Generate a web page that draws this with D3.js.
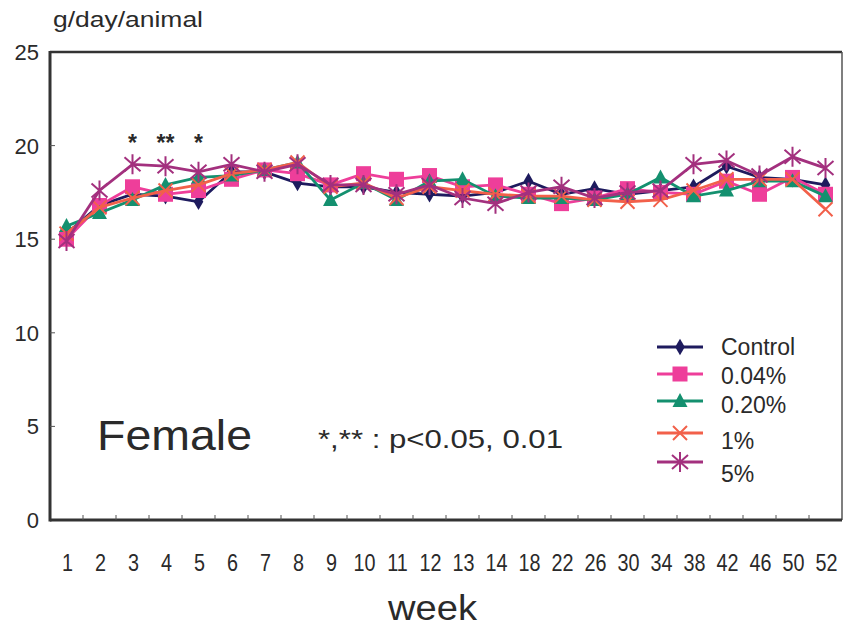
<!DOCTYPE html>
<html><head><meta charset="utf-8">
<script src="https://cdn.jsdelivr.net/npm/d3@7"></script>
<style>body{margin:0;background:#fff}svg{display:block}text{font-family:"Liberation Sans",Arial,sans-serif;fill:#2a2a2a}</style>
</head><body><svg id="c" width="844" height="629"></svg>
<script>
const weeks = [1,2,3,4,5,6,7,8,9,10,11,12,13,14,18,22,26,30,34,38,42,46,50,52];
const yTicks = [0,5,10,15,20,25];
const seriesNames = ["Control","0.04%","0.20%","1%","5%"];
const control = [15.3,16.8,17.4,17.3,17.0,18.6,18.6,18.0,17.8,17.8,17.5,17.4,17.3,17.5,18.1,17.4,17.7,17.4,17.6,17.8,18.9,18.3,18.2,17.9];
const p004    = [15.0,16.8,17.8,17.4,17.6,18.2,18.7,18.5,17.9,18.5,18.2,18.4,17.8,17.9,17.4,16.9,17.2,17.7,17.5,17.4,18.1,17.4,18.3,17.4];
const p020    = [15.7,16.4,17.1,17.9,18.3,18.4,18.7,19.1,17.1,18.0,17.1,18.1,18.2,17.3,17.2,17.2,17.1,17.4,18.3,17.3,17.6,18.1,18.1,17.3];
const p1      = [15.3,16.7,17.2,17.6,17.9,18.5,18.7,19.1,17.8,18.0,17.2,17.8,17.6,17.4,17.3,17.3,17.1,17.0,17.1,17.6,18.2,18.2,18.2,16.6];
const p5      = [14.9,17.6,19.0,18.9,18.6,19.0,18.6,19.0,17.9,17.9,17.4,17.9,17.2,16.9,17.5,17.8,17.2,17.5,17.6,19.0,19.2,18.4,19.4,18.8];
const sigWeeks = [3,4,5];
const sigMarks = ["*","**","*"];

const colors = ["#1e1b5e","#ee3e9a","#14906f","#f2604a","#a3307e"];
const shapes = ["diamond","square","triangle","x","star"];
const allSeries = [control,p004,p020,p1,p5];

const svg = d3.select("#c");
const L=50,R=842,T=52,B=520;
const xb = d3.scaleBand().domain(weeks).range([L,R]);
const xc = w => xb(w)+xb.bandwidth()/2;
const y = d3.scaleLinear().domain([0,25]).range([B,T]);

// frame
svg.append("line").attr("x1",L).attr("x2",R).attr("y1",T).attr("y2",T).attr("stroke","#333").attr("stroke-width",2.5);
svg.append("line").attr("x1",R).attr("x2",R).attr("y1",T).attr("y2",B).attr("stroke","#555").attr("stroke-width",1.5);
svg.append("line").attr("x1",L).attr("x2",L).attr("y1",T-1).attr("y2",B+1.5).attr("stroke","#333").attr("stroke-width",3);
svg.append("line").attr("x1",L).attr("x2",R).attr("y1",B).attr("y2",B).attr("stroke","#333").attr("stroke-width",3);

// x ticks at band boundaries
weeks.slice(1).forEach(w=>{
  svg.append("line").attr("x1",xb(w)).attr("x2",xb(w)).attr("y1",B).attr("y2",B-5).attr("stroke","#555").attr("stroke-width",1);
});
svg.selectAll(".xl").data(weeks).enter().append("text")
  .attr("transform",d=>`translate(${xc(d)+1},571) scale(0.86,1)`)
  .attr("text-anchor","middle").attr("font-size",23).text(d=>d);

// y ticks
yTicks.forEach(v=>{
  if(v>0&&v<25) svg.append("line").attr("x1",L).attr("x2",L+5).attr("y1",y(v)).attr("y2",y(v)).attr("stroke","#555").attr("stroke-width",1);
  svg.append("text").attr("x",39).attr("y",y(v)+8).attr("text-anchor","end").attr("font-size",22).text(v);
});

svg.append("text").attr("x",53).attr("y",27).attr("font-size",22).attr("textLength",150).attr("lengthAdjust","spacingAndGlyphs").text("g/day/animal");
svg.append("text").attr("x",388).attr("y",620).attr("font-size",35).attr("textLength",89).attr("lengthAdjust","spacingAndGlyphs").text("week");
svg.append("text").attr("x",97).attr("y",450).attr("font-size",42).attr("textLength",155).attr("lengthAdjust","spacingAndGlyphs").text("Female");
svg.append("text").attr("x",318).attr("y",448).attr("font-size",25).attr("textLength",245).attr("lengthAdjust","spacingAndGlyphs").text("*,** : p<0.05, 0.01");

// significance marks
sigWeeks.forEach((w,i)=>{
  svg.append("text").attr("x",xc(w)).attr("y",151).attr("text-anchor","middle").attr("font-size",23).attr("font-weight","bold").text(sigMarks[i]);
});

function marker(g,shape,color,cx,cy){
  if(shape==="diamond"){
    g.append("path").attr("d",d3.symbol(d3.symbolDiamond,80)()).attr("transform",`translate(${cx},${cy})`).attr("fill",color);
  } else if(shape==="square"){
    g.append("rect").attr("x",cx-7.5).attr("y",cy-7.5).attr("width",15).attr("height",15).attr("fill",color);
  } else if(shape==="triangle"){
    g.append("path").attr("d",`M${cx},${cy-8}L${cx+7.5},${cy+6}L${cx-7.5},${cy+6}Z`).attr("fill",color);
  } else if(shape==="x"){
    g.append("path").attr("d",`M${cx-7},${cy-7}L${cx+7},${cy+7}M${cx-7},${cy+7}L${cx+7},${cy-7}`).attr("stroke",color).attr("stroke-width",2);
  } else {
    g.append("path").attr("d",`M${cx-8},${cy-7}L${cx+8},${cy+7}M${cx-8},${cy+7}L${cx+8},${cy-7}M${cx},${cy-10}L${cx},${cy+10}`).attr("stroke",color).attr("stroke-width",2);
  }
}

const line = d3.line().x((d,i)=>xc(weeks[i])).y(d=>y(d));
allSeries.forEach((s,k)=>{
  const g = svg.append("g");
  g.append("path").datum(s).attr("d",line).attr("fill","none").attr("stroke",colors[k]).attr("stroke-width",2.8);
  s.forEach((v,i)=>marker(g,shapes[k],colors[k],xc(weeks[i]),y(v)));
});

// legend
const legLineY = [347,374,401,433,462];
const legTextY = [355,384,413,449,482];
const legW = [80,55,55,24,24];
seriesNames.forEach((n,k)=>{
  const g = svg.append("g");
  g.append("line").attr("x1",657).attr("x2",703).attr("y1",legLineY[k]).attr("y2",legLineY[k]).attr("stroke",colors[k]).attr("stroke-width",2.8);
  marker(g,shapes[k],colors[k],680,legLineY[k]);
  g.append("text").attr("x",721).attr("y",legTextY[k]).attr("font-size",23).text(n);
});
</script></body></html>
